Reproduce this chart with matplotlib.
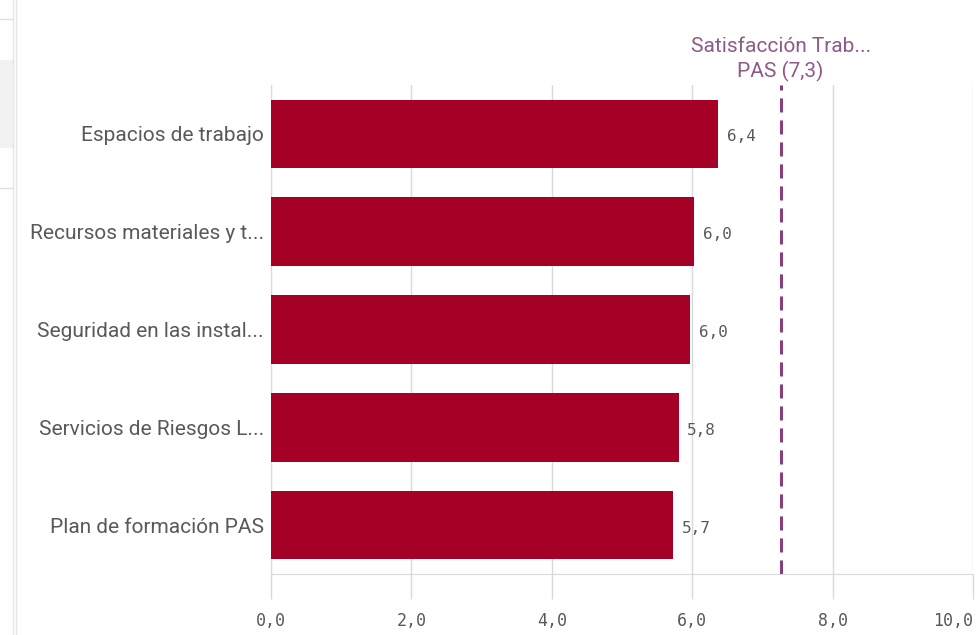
import matplotlib.pyplot as plt
from matplotlib.patches import Rectangle
from matplotlib.lines import Line2D

# Data
categories = [
    "Espacios de trabajo",
    "Recursos materiales y t...",
    "Seguridad en las instal...",
    "Servicios de Riesgos L...",
    "Plan de formación PAS",
]
values = [6.37, 6.03, 5.97, 5.81, 5.73]
value_labels = ["6,4", "6,0", "6,0", "5,8", "5,7"]
ref_value = 7.26
ref_label = "Satisfacción Trab...\nPAS (7,3)"
x_ticks = [0, 2, 4, 6, 8, 10]
x_tick_labels = ["0,0", "2,0", "4,0", "6,0", "8,0", "10,0"]

BAR = "#a50026"
REF = "#864079"
REF_TXT = "#8e5a89"
GRID = "#d9d9d9"
TXT = "#595959"

plt.rcParams['font.family'] = ['Roboto', 'DejaVu Sans']

fig = plt.figure(figsize=(9.76, 6.35), dpi=100)
W, H = 976, 635
# axes box in pixels: left 271, right 973, top 85, bottom 574
ax = fig.add_axes([271 / W, 1 - 574 / H, (973 - 271) / W, (574 - 85) / H])

y = list(range(len(categories)))
ax.barh(y, values, height=0.7, color=BAR, zorder=3)
ax.set_ylim(len(categories) - 0.5, -0.5)
ax.set_xlim(0, 10)

for yi, v, lab in zip(y, values, value_labels):
    ax.text(v + 0.12, yi + 0.03, lab, va='center', ha='left', fontsize=11.5,
            color=TXT, family='DejaVu Sans Mono', zorder=4)

ax.axvline(ref_value, color=REF, lw=2.2, ls=(0, (4.6, 2.6)), zorder=4)
ax.text(ref_value, -0.53, ref_label, ha='center', va='bottom', fontsize=15,
        color=REF_TXT, linespacing=1.3)

ax.set_yticks(y)
ax.set_yticklabels(categories, fontsize=15, color=TXT)
ax.set_xticks(x_ticks)
ax.set_xticklabels(x_tick_labels, fontsize=12, color=TXT,
                   family='DejaVu Sans Mono')
ax.get_xticklabels()[-1].set_horizontalalignment('right')
ax.tick_params(axis='y', length=0, pad=5)
ax.tick_params(axis='x', length=18, width=1, color=GRID, pad=9)

ax.grid(axis='x', color=GRID, lw=1, zorder=0)
for s in ['top', 'right']:
    ax.spines[s].set_visible(False)
ax.spines['left'].set_color(GRID)
ax.spines['bottom'].set_color(GRID)

# surrounding UI bits on the left edge
fig.add_artist(Line2D([13 / W, 13 / W], [0, 1], color="#e6e6e6", lw=1))
fig.add_artist(Line2D([15.5 / W, 15.5 / W], [0, 1], color="#e6e6e6", lw=1))
fig.add_artist(Rectangle((0, 1 - 147 / H), 13 / W, 87 / H, color="#f2f2f2"))
fig.add_artist(Line2D([0, 13 / W], [1 - 19 / H] * 2, color="#e0e0e0", lw=1))
fig.add_artist(Line2D([0, 13 / W], [1 - 188 / H] * 2, color="#e0e0e0", lw=1))

fig.savefig("out.png", dpi=100)
